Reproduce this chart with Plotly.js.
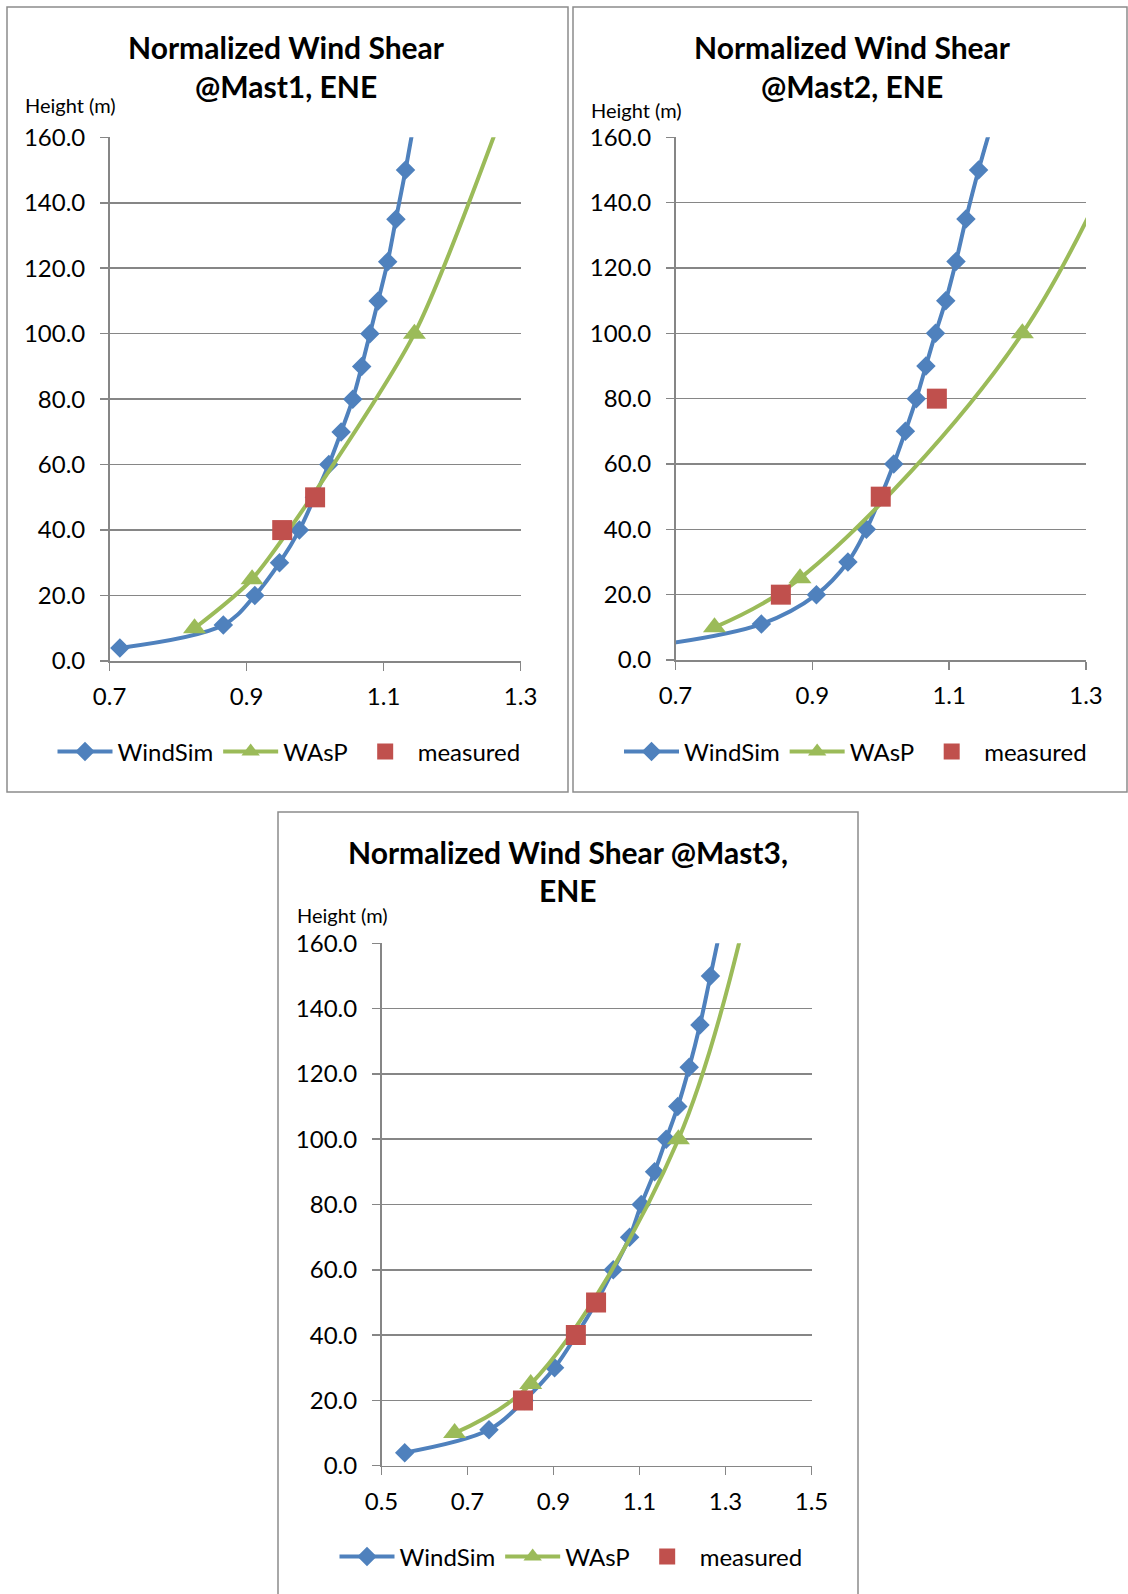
<!DOCTYPE html>
<html>
<head>
<meta charset="utf-8">
<script src="https://cdn.plot.ly/plotly-3.0.1.min.js"></script>
<style>
html,body{margin:0;padding:0;background:#fff;}
#chart{width:1128px;height:1594px;}
</style>
</head>
<body>
<div id="chart"></div>
<script>
// ---------------- DATA ----------------
const seriesNames = ["WindSim", "WAsP", "measured"];
const chartTitlesLine1 = ["Normalized Wind Shear", "Normalized Wind Shear", "Normalized Wind Shear @Mast3,"];
const chartTitlesLine2 = ["@Mast1, ENE", "@Mast2, ENE", "ENE"];
const yAxisLabel = "Height (m)";

const windSimHeights = [4, 11, 20, 30, 40, 50, 60, 70, 80, 90, 100, 110, 122, 135, 150, 200];
const waspHeights = [10, 25, 100, 200];

// Mast 1
const mast1WindSim = [0.715, 0.866, 0.912, 0.948, 0.977, 0.999, 1.020, 1.038, 1.055, 1.068, 1.080, 1.092, 1.106, 1.118, 1.132, 1.175];
const mast1Wasp = [0.824, 0.908, 1.145, 1.330];
const mast1MeasuredX = [0.952, 1.000];
const mast1MeasuredY = [40, 50];

// Mast 2
const mast2WindSim = [0.655, 0.8255, 0.906, 0.952, 0.979, 1.000, 1.019, 1.036, 1.052, 1.066, 1.080, 1.095, 1.110, 1.1245, 1.143, 1.213];
const mast2Wasp = [0.757, 0.882, 1.207, 1.440];
const mast2MeasuredX = [0.854, 1.000, 1.082];
const mast2MeasuredY = [20, 50, 80];

// Mast 3
const mast3WindSim = [0.554, 0.750, 0.832, 0.9025, 0.953, 0.999, 1.039, 1.077, 1.104, 1.135, 1.162, 1.189, 1.2156, 1.2406, 1.265, 1.345];
const mast3Wasp = [0.670, 0.847, 1.1905, 1.400];
const mast3MeasuredX = [0.829, 0.952, 0.999];
const mast3MeasuredY = [20, 40, 50];

const xRanges = [[0.7, 1.3], [0.7, 1.3], [0.5, 1.5]];
const yRange = [0, 160];

// ---------------- STYLE / LAYOUT ----------------
const W = 1128, H = 1594;
const FONT = 'Lato, "Open Sans", sans-serif';
const BLUE = '#4F81BD', GREEN = '#9BBB59', RED = '#C0504D', GRAY = '#868686';
const px = v => v / W;
const py = v => 1 - v / H;

// plot areas in pixels [x0, x1, yTop, yBottom]
const areas = [
  [109.6, 520.6, 137.3, 661],
  [675.5, 1086, 137.3, 660],
  [381.5, 811.5, 943.3, 1465.7]
];
const boxes = [
  [7, 568, 7, 792],
  [573, 1127, 7, 792],
  [278, 858, 812, 1600]
];
const titleCenters = [286, 852, 568];
const titleLine1Y = [47.5, 47.5, 851.5];
const titleLine2Y = [86.5, 86.5, 890];
const heightLabelPos = [[23, 104.5], [589, 110.5], [294.7, 915]];
const legendPos = [[289, 752], [855.5, 752], [571, 1557]];
const smoothings = [[1, 0.6, 0], [1, 1, 0], [1, 1, 0]];

const windSimX = [mast1WindSim, mast2WindSim, mast3WindSim];
const waspX = [mast1Wasp, mast2Wasp, mast3Wasp];
const measX = [mast1MeasuredX, mast2MeasuredX, mast3MeasuredX];
const measY = [mast1MeasuredY, mast2MeasuredY, mast3MeasuredY];

const traces = [];
const layout = {
  width: W, height: H,
  margin: {l: 0, r: 0, t: 0, b: 0},
  paper_bgcolor: '#fff', plot_bgcolor: 'rgba(0,0,0,0)',
  font: {family: FONT, color: '#000'},
  showlegend: true,
  shapes: [], annotations: []
};

for (let i = 0; i < 3; i++) {
  const sfx = i === 0 ? '' : String(i + 1);
  const xa = 'x' + sfx, ya = 'y' + sfx, lg = 'legend' + sfx;
  const a = areas[i];
  layout['xaxis' + sfx] = {
    domain: [px(a[0]), px(a[1])], anchor: ya,
    range: xRanges[i], tick0: xRanges[i][0], dtick: 0.2, tickformat: '.1f',
    showgrid: false, zeroline: false, showline: true,
    linecolor: GRAY, linewidth: 1.5,
    ticks: 'outside', ticklen: 8, tickwidth: 1.5, tickcolor: GRAY,
    tickfont: {family: FONT, size: 24, color: '#000'},
    ticklabelstandoff: 6, fixedrange: true
  };
  layout['yaxis' + sfx] = {
    domain: [py(a[3]), py(a[2])], anchor: xa,
    range: yRange, tick0: 0, dtick: 20, tickformat: '.1f',
    showgrid: true, gridcolor: GRAY, gridwidth: 1.5,
    zeroline: false, showline: true, linecolor: GRAY, linewidth: 1.5,
    ticks: 'outside', ticklen: 8, tickwidth: 1.5, tickcolor: GRAY,
    tickfont: {family: FONT, size: 24, color: '#000'},
    ticklabelstandoff: 10, fixedrange: true
  };
  layout[lg] = {
    orientation: 'h', x: px(legendPos[i][0]), xanchor: 'center',
    y: py(legendPos[i][1]), yanchor: 'middle',
    font: {family: FONT, size: 24, color: '#000'},
    itemwidth: 55, bgcolor: 'rgba(0,0,0,0)', borderwidth: 0
  };

  traces.push({
    type: 'scatter', mode: 'lines+markers', name: seriesNames[0],
    x: windSimX[i], y: windSimHeights, xaxis: xa, yaxis: ya, legend: lg,
    line: {color: BLUE, width: 4, shape: 'spline', smoothing: smoothings[i][0]},
    marker: {symbol: 'diamond', size: 15, color: BLUE}
  });
  traces.push({
    type: 'scatter', mode: 'lines+markers', name: seriesNames[1],
    x: waspX[i], y: waspHeights, xaxis: xa, yaxis: ya, legend: lg,
    line: {color: GREEN, width: 4, shape: 'spline', smoothing: smoothings[i][1]},
    marker: {symbol: 'triangle-up', size: 20, color: GREEN}
  });
  traces.push({
    type: 'scatter', mode: 'markers', name: seriesNames[2],
    x: measX[i], y: measY[i], xaxis: xa, yaxis: ya, legend: lg,
    marker: {symbol: 'square', size: 20, color: RED}
  });

  const b = boxes[i];
  layout.shapes.push({
    type: 'rect', xref: 'paper', yref: 'paper',
    x0: px(b[0]), x1: px(b[1]), y0: py(b[3]), y1: py(b[2]),
    line: {color: '#8c8c8c', width: 1.5}, fillcolor: 'rgba(0,0,0,0)', layer: 'below'
  });
  layout.annotations.push({
    xref: 'paper', yref: 'paper', x: px(titleCenters[i]), y: py(titleLine1Y[i]),
    xanchor: 'center', yanchor: 'middle', showarrow: false,
    text: '<b>' + chartTitlesLine1[i] + '</b>',
    font: {family: FONT, size: 30, color: '#000'}
  });
  layout.annotations.push({
    xref: 'paper', yref: 'paper', x: px(titleCenters[i]), y: py(titleLine2Y[i]),
    xanchor: 'center', yanchor: 'middle', showarrow: false,
    text: '<b>' + chartTitlesLine2[i] + '</b>',
    font: {family: FONT, size: 30, color: '#000'}
  });
  layout.annotations.push({
    xref: 'paper', yref: 'paper', x: px(heightLabelPos[i][0]), y: py(heightLabelPos[i][1]),
    xanchor: 'left', yanchor: 'middle', showarrow: false,
    text: yAxisLabel,
    font: {family: FONT, size: 20, color: '#000'}
  });
}

Plotly.newPlot('chart', traces, layout, {staticPlot: true, displayModeBar: false});
</script>
</body>
</html>
